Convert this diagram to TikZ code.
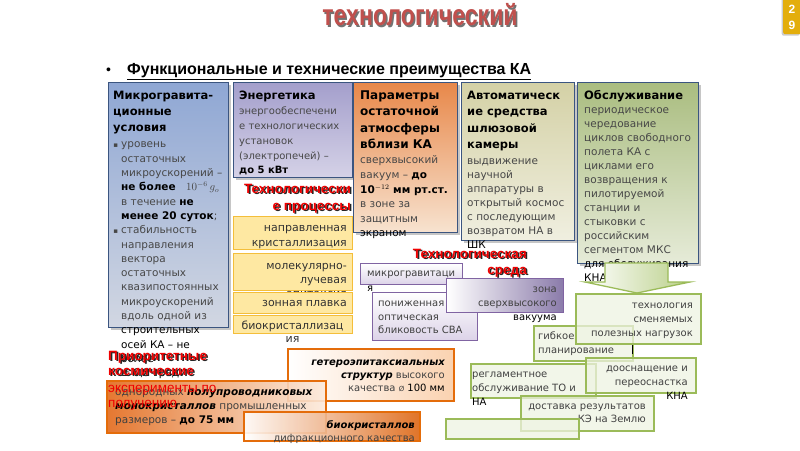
\documentclass[tikz,border=0pt]{standalone}
\usepackage{fontspec}
\usepackage{graphicx}
\setmainfont{DejaVu Sans}
\newfontfamily\lib{Liberation Sans}
\usetikzlibrary{shadows}
\definecolor{bbord}{HTML}{3B5580}
\definecolor{b1t}{HTML}{8FA7D4}\definecolor{b1b}{HTML}{D2D7E2}
\definecolor{b2t}{HTML}{A49FCC}\definecolor{b2b}{HTML}{D5D2E7}
\definecolor{b3t}{HTML}{E8884A}\definecolor{b3b}{HTML}{F7E3D0}
\definecolor{b4t}{HTML}{D4D1A6}\definecolor{b4b}{HTML}{F0EFE0}
\definecolor{b5t}{HTML}{AABD80}\definecolor{b5b}{HTML}{E6EBD8}
\definecolor{yf}{HTML}{FEE8A2}\definecolor{yb}{HTML}{F4BE3A}
\definecolor{pb}{HTML}{8064A2}\definecolor{pf}{HTML}{DCD3E8}\definecolor{pz}{HTML}{8A7BAA}
\definecolor{gb}{HTML}{9BBB59}\definecolor{gf}{HTML}{EEF3E2}\definecolor{ga}{HTML}{B9CF88}
\definecolor{ob}{HTML}{E46C0A}\definecolor{oL}{HTML}{E2691A}\definecolor{oR}{HTML}{FCEBDD}
\definecolor{oh}{HTML}{FAD2B0}\definecolor{oD}{HTML}{DD6512}
\definecolor{redc}{HTML}{F00000}\definecolor{titc}{HTML}{C0504D}\definecolor{badge}{HTML}{E3AE0C}
\newcommand\bul{{\fontsize{7}{7}\selectfont ▪}\hspace{3pt}}
\newcommand\bk[1]{\textcolor{black}{\bfseries #1}}
\newcommand\tprule{\rule{0pt}{12pt}}
\tikzset{
  fl/.style={yshift=12pt},
  topbox/.style={draw=bbord, line width=1.3pt, anchor=north west, inner sep=0pt,
    drop shadow={opacity=0.45, shadow xshift=2.5pt, shadow yshift=-2.5pt}},
  hd/.style={anchor=north west, fl, inner sep=0pt, align=left, font=\bfseries\fontsize{11.5}{16.2}\selectfont, text=black},
  bd/.style={anchor=north west, fl, inner sep=0pt, align=left, font=\fontsize{10.5}{14.5}\selectfont, text=black!72},
  ybox/.style={draw=yb, fill=yf, line width=1.3pt, anchor=north west, inner sep=0pt, minimum width=119pt},
  ytx/.style={anchor=north east, fl, inner sep=0pt, align=right, font=\fontsize{11}{15}\selectfont, text=black!80},
  pbox/.style={draw=pb, line width=1.2pt, anchor=north west, inner sep=0pt},
  gbox/.style={draw=gb, fill=gf, fill opacity=0.75, line width=1.5pt, anchor=north west, inner sep=0pt},
  obox/.style={draw=ob, line width=1.5pt, anchor=north west, inner sep=0pt},
  txl/.style={anchor=north west, fl, inner sep=0pt, align=left, font=\fontsize{10}{14}\selectfont, text=black!75},
  txr/.style={anchor=north east, fl, inner sep=0pt, align=right, font=\fontsize{10}{14}\selectfont, text=black!75},
  redl/.style={fl, inner sep=0pt, font=\lib\bfseries\fontsize{13.5}{16}\selectfont, text=redc},
  reds/.style={fl, inner sep=0pt, font=\lib\bfseries\fontsize{13.5}{16}\selectfont, text=black!85},
  arrowsty/.style={draw=gb, line width=1.3pt, left color=white, right color=ga},
}
\begin{document}
\begin{tikzpicture}[x=1pt,y=-1pt]
\useasboundingbox (0,0) rectangle (800,450);
% title
\node[text=black!55, font=\lib\bfseries\fontsize{22}{22}\selectfont] (titsh) at (421.5,16.5) {\scalebox{1.05}[1.35]{технологический}};
\node[text=titc, font=\lib\bfseries\fontsize{22}{22}\selectfont] (title) at (420,15) {\scalebox{1.05}[1.35]{технологический}};
% badge
\node[fill=badge, rounded corners=2pt, minimum width=18pt, minimum height=38pt, anchor=north west, inner sep=0pt,
  drop shadow={opacity=0.4, shadow xshift=-1.5pt, shadow yshift=-1.5pt}] (badge) at (783,-4) {};
\node[text=white, font=\lib\bfseries\fontsize{12}{12}\selectfont] (bd2) at (792,9) {2};
\node[text=white, font=\lib\bfseries\fontsize{12}{12}\selectfont] (bd9) at (792,25) {9};
% bullet
\node[anchor=base west, inner sep=0pt, font=\lib\fontsize{14}{14}\selectfont] (bul) at (106,74) {•};
\node[anchor=base west, inner sep=0pt, font=\lib\bfseries\fontsize{16}{16}\selectfont] (btxt) at (127,74) {\underline{Функциональные и технические преимущества КА}};

% box 1
\node[topbox, minimum width=120pt, minimum height=245pt, top color=b1t, bottom color=b1b] (box1) at (108,82) {};
\node[hd] (h1) at (113,99) {\tprule Микрогравита-\\ционные\\условия};
\node[bd, font=\fontsize{10.5}{14.3}\selectfont] (t1) at (121,147.7) {\tprule\llap{\bul}уровень\\остаточных\\микроускорений –\\\bk{не более}\quad$10^{-6}\,g_{o}$\\в течение \bk{не}\\\bk{менее 20 суток};\\\llap{\bul}стабильность\\направления\\вектора\\остаточных\\квазипостоянных\\микроускорений\\вдоль одной из\\\textcolor{black}{строительных}\\\textcolor{black}{осей КА – не}\\\textcolor{black}{более}\\\textcolor{black}{± 0,5 град}};
% box 2
\node[topbox, minimum width=119pt, minimum height=95pt, top color=b2t, bottom color=b2b] (box2) at (233,82) {};
\node[hd] (h2) at (239,99.5) {\tprule Энергетика};
\node[bd, font=\fontsize{10}{14.75}\selectfont] (t2) at (239,114.6) {\tprule энергообеспечени\\е технологических\\установок\\(электропечей) –\\\bk{до 5 кВт}};
% box 3
\node[topbox, minimum width=104pt, minimum height=150pt, top color=b3t, bottom color=b3b] (box3) at (353,82) {};
\node[hd, font=\bfseries\fontsize{12}{16.2}\selectfont] (h3) at (360,99.5) {\tprule Параметры\\остаточной\\атмосферы\\вблизи КА};
\node[bd, font=\fontsize{10.5}{14.6}\selectfont] (t3) at (360,163.7) {\tprule сверхвысокий\\вакуум – \bk{до}\\\bk{10$^{-12}$ мм рт.ст.}\\в зоне за\\защитным\\\textcolor{black}{экраном}};
% box 4
\node[topbox, minimum width=113pt, minimum height=158pt, top color=b4t, bottom color=b4b] (box4) at (461,82) {};
\node[hd] (h4) at (467,99.5) {\tprule Автоматическ\\ие средства\\шлюзовой\\камеры};
\node[bd, font=\fontsize{10.5}{14}\selectfont] (t4) at (467,164.7) {\tprule выдвижение\\научной\\аппаратуры в\\открытый космос\\с последующим\\возвратом НА в\\\textcolor{black}{ШК}};
% box 5
\node[topbox, minimum width=121pt, minimum height=181pt, top color=b5t, bottom color=b5b] (box5) at (577,82) {};
\node[hd] (h5) at (584,99.5) {\tprule Обслуживание};
\node[bd, font=\fontsize{10.5}{14}\selectfont] (t5) at (584,113.7) {\tprule периодическое\\чередование\\циклов свободного\\полета КА с\\циклами его\\возвращения к\\пилотируемой\\станции и\\стыковки с\\российским\\сегментом МКС\\\textcolor{black}{для обслуживания}\\\textcolor{black}{КНА}};
% green arrow
\path[arrowsty] (605,263) -- (668,263) -- (668,282) -- (690,282) -- (637,293) -- (585,282) -- (605,282) -- cycle;

% yellow boxes
\node[ybox, minimum height=33pt] (y1) at (233,216) {};
\node[ytx] (yt1) at (347,231) {\tprule направленная\\кристаллизация};
\node[ybox, minimum height=37pt] (y2) at (233,253) {};
\node[ytx, font=\fontsize{11}{14}\selectfont] (yt2) at (347,269) {\tprule молекулярно-\\лучевая\\эпитаксия};
\node[ybox, minimum height=21pt] (y3) at (233,292) {};
\node[ytx] (yt3) at (347,306) {\tprule зонная плавка};
\node[ybox, minimum height=18pt] (y4) at (233,315) {};
\node[ytx, anchor=north, align=center, font=\fontsize{11}{13.5}\selectfont] (yt4) at (292.5,329) {\tprule биокристаллизац\\ия};

% red labels
\node[reds, anchor=north east, align=right, font=\lib\bfseries\fontsize{13.5}{17}\selectfont] (tps) at (352.5,194.3) {\tprule Технологически\\е процессы};
\node[redl, anchor=north east, align=right, font=\lib\bfseries\fontsize{13.5}{17}\selectfont] (tp) at (351,192.8) {\tprule Технологически\\е процессы};
\node[reds, anchor=north east, align=right] (tss) at (528.5,259.3) {\tprule Технологическая\\среда};
\node[redl, anchor=north east, align=right] (ts) at (527,257.8) {\tprule Технологическая\\среда};

% purple boxes
\node[pbox, minimum width=102pt, minimum height=21pt, top color=white, bottom color=pf] (p1) at (360,263) {};
\node[txl, font=\fontsize{10}{15}\selectfont] (pt1) at (367,276.5) {\tprule микрогравитаци\\\textcolor{black}{я}};
\node[pbox, minimum width=105pt, minimum height=48pt, top color=white, bottom color=pf] (p2) at (372,292) {};
\node[txl, font=\fontsize{10}{13.5}\selectfont] (pt2) at (378,306.5) {\tprule пониженная\\оптическая\\бликовость СВА};
\node[pbox, minimum width=117pt, minimum height=34pt, left color=white, right color=pz] (p3) at (446,278) {};
\node[txr] (pt3) at (557,292.5) {\tprule зона\\сверхвысокого\\\textcolor{black}{вакуума}};

% green boxes
\node[gbox, minimum width=99pt, minimum height=35pt] (g2) at (533,325) {};
\node[txl, font=\fontsize{10}{13.5}\selectfont] (gt2) at (538,339.5) {\tprule гибкое\\планирование};
\node[gbox, minimum width=125pt, minimum height=50pt] (g1) at (575,293) {};
\node[txr] (gt1) at (693,308.5) {\tprule технология\\сменяемых\\полезных нагрузок};
\coordinate (mk1) at (632,345); \coordinate (mk2) at (632,354);
\draw[black, line width=1pt] (mk1) -- (mk2);
\node[gbox, minimum width=125pt, minimum height=34pt] (g4) at (470,363) {};
\node[txl] (gt4) at (472,377.5) {\tprule регламентное\\обслуживание ТО и\\\textcolor{black}{НА}};
\node[gbox, minimum width=110pt, minimum height=35pt] (g3) at (585,357) {};
\node[txr] (gt3) at (688,371.5) {\tprule дооснащение и\\переоснастка\\\textcolor{black}{КНА}};
\node[gbox, minimum width=133pt, minimum height=35pt] (g5) at (520,395) {};
\node[txr, font=\fontsize{10}{13}\selectfont] (gt5) at (646,409.5) {\tprule доставка результатов\\КЭ на Землю};
\node[gbox, minimum width=133pt, minimum height=20pt] (g6) at (445,418) {};

% priority label (top part)
\node[reds, anchor=north west, align=left, font=\lib\bfseries\fontsize{13.5}{15}\selectfont] (prs) at (109.5,361.3) {\tprule Приоритетные\\космические};
\node[redl, anchor=north west, align=left, font=\lib\bfseries\fontsize{13.5}{15}\selectfont] (pr) at (108,359.8) {\tprule Приоритетные\\космические};

% orange boxes
\node[obox, minimum width=166pt, minimum height=52pt, left color=white, right color=oh] (o1) at (287,348) {};
\node[txr, font=\fontsize{10}{13}\selectfont] (ot1) at (445,365.5) {\tprule\bk{\itshape гетероэпитаксиальных}\\\bk{\itshape структур} высокого\\качества {\fontsize{7}{7}\selectfont Ø} \textcolor{black}{100 мм}};
\node[obox, minimum width=219pt, minimum height=52pt, left color=oL, right color=oR, fill opacity=0.9] (o2) at (106,380) {};
\node[txl, font=\fontsize{10.5}{14}\selectfont] (ot2) at (115,395.5) {\tprule однородных \bk{\itshape полупроводниковых}\\\bk{\itshape монокристаллов} промышленных\\размеров – \bk{до 75 мм}};
\node[obox, minimum width=176pt, minimum height=29pt, left color=white, right color=oD, fill opacity=0.9] (o3) at (243,411) {};
\node[txr, font=\fontsize{10}{12.5}\selectfont] (ot3) at (415,428.5) {\tprule\bk{\itshape биокристаллов}\\дифракционного качества};
\node[redl, anchor=north west, align=left, font=\lib\fontsize{13.5}{15}\selectfont] (pr2) at (108,391.8) {\tprule эксперименты по\\получению};
\end{tikzpicture}
\end{document}
